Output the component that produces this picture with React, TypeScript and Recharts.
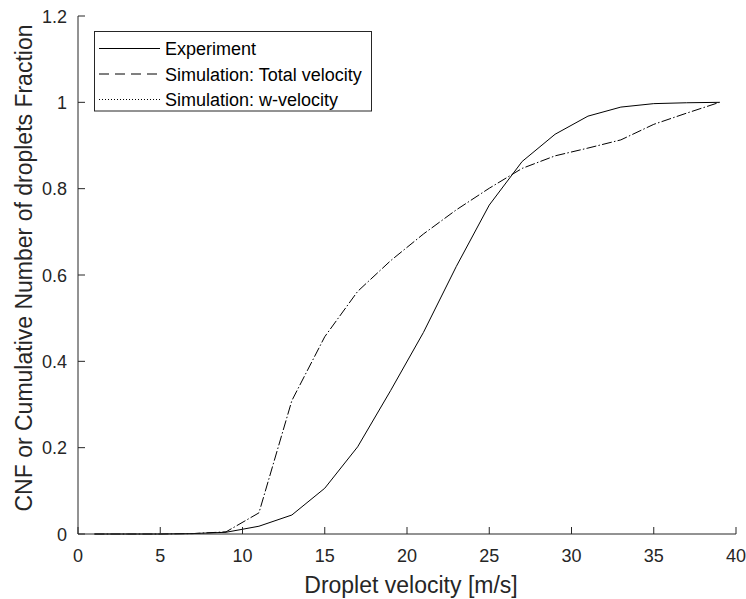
import React from 'react';
import { LineChart, Line, XAxis, YAxis } from 'recharts';

const velocity = [1, 3, 5, 7, 9, 11, 13, 15, 17, 19, 21, 23, 25, 27, 29, 31, 33, 35, 37, 39];
const experiment = [0, 0, 0, 0.001, 0.004, 0.018, 0.044, 0.106, 0.202, 0.332, 0.467, 0.62, 0.762, 0.863, 0.926, 0.968, 0.989, 0.997, 0.999, 1];
const simTotal = [0, 0, 0, 0.001, 0.005, 0.049, 0.309, 0.457, 0.562, 0.633, 0.695, 0.751, 0.801, 0.847, 0.876, 0.894, 0.913, 0.949, 0.975, 1];
const simW = [0, 0, 0, 0.001, 0.005, 0.049, 0.309, 0.457, 0.562, 0.633, 0.695, 0.751, 0.801, 0.847, 0.876, 0.894, 0.913, 0.949, 0.975, 1];
const xTicks = [0, 5, 10, 15, 20, 25, 30, 35, 40];
const yTicks = [0, 0.2, 0.4, 0.6, 0.8, 1, 1.2];
const seriesNames = ['Experiment', 'Simulation: Total velocity', 'Simulation: w-velocity'];
const xLabel = 'Droplet velocity [m/s]';
const yLabel = 'CNF or Cumulative Number of droplets Fraction';

const data = velocity.map((v, i) => ({ v, exp: experiment[i], tot: simTotal[i], w: simW[i] }));

const FONT = '"Liberation Sans", Arial, Helvetica, sans-serif';
const AX = '#262626';
const TICK_FS = 18;
const LABEL_FS = 23;

const BottomTick = (props: any) => {
  const { x, y, payload } = props;
  return (
    <g>
      <line x1={x} x2={x} y1={y} y2={y - 7} stroke={AX} strokeWidth={1} />
      <text x={x} y={y + 28} textAnchor="middle" fontSize={TICK_FS} fill={AX} fontFamily={FONT}>{payload.value}</text>
    </g>
  );
};
const TopTick = (props: any) => {
  const { x, y } = props;
  return <line x1={x} x2={x} y1={y} y2={y + 7} stroke={AX} strokeWidth={1} />;
};
const LeftTick = (props: any) => {
  const { x, y, payload } = props;
  return (
    <g>
      <line x1={x} x2={x + 7} y1={y} y2={y} stroke={AX} strokeWidth={1} />
      <text x={x - 11} y={y + 6.5} textAnchor="end" fontSize={TICK_FS} fill={AX} fontFamily={FONT}>{payload.value}</text>
    </g>
  );
};
const RightTick = (props: any) => {
  const { x, y } = props;
  return <line x1={x} x2={x - 7} y1={y} y2={y} stroke={AX} strokeWidth={1} />;
};

const XLabel = (props: any) => {
  const vb = props.viewBox;
  return (
    <text x={vb.x + vb.width / 2 + 4} y={vb.y + 59} textAnchor="middle" fontSize={LABEL_FS} fill={AX} fontFamily={FONT}>{xLabel}</text>
  );
};
const YLabel = (props: any) => {
  const vb = props.viewBox;
  const bx = vb.x + 14;
  const cy = vb.y + vb.height / 2 - 7;
  return (
    <text x={bx} y={cy} transform={`rotate(-90, ${bx}, ${cy})`} textAnchor="middle" fontSize={LABEL_FS} fill={AX} fontFamily={FONT}>{yLabel}</text>
  );
};

const LegendOverlay = () => {
  const rows = [
    { name: seriesNames[0], dash: undefined as string | undefined, y: 48.5 },
    { name: seriesNames[1], dash: '10 6', y: 74 },
    { name: seriesNames[2], dash: '1 2', y: 99.5 },
  ];
  return (
    <svg width={746} height={599} style={{ position: 'absolute', left: 0, top: 0, pointerEvents: 'none' }}>
      <rect x={94.5} y={31.5} width={277} height={79.5} fill="#fff" stroke={AX} strokeWidth={1} />
      {rows.map((r, i) => (
        <g key={i}>
          <line x1={99} x2={160} y1={r.y} y2={r.y} stroke="#000" strokeWidth={1} strokeDasharray={r.dash} />
          <text x={165} y={r.y + 6.5} fontSize={18} fill="#000" fontFamily={FONT}>{r.name}</text>
        </g>
      ))}
    </svg>
  );
};

export default function App() {
  return (
    <div style={{ position: 'absolute', left: 0, top: 0, width: 746, height: 599, background: '#fff' }}>
      <LineChart width={746} height={599} data={data} margin={{ top: 16, right: 10, bottom: 15, left: 18 }}>
        <XAxis xAxisId="b" dataKey="v" type="number" domain={[0, 40]} ticks={xTicks} tick={<BottomTick />} tickLine={false} tickSize={0} tickMargin={0}
          axisLine={{ stroke: AX }} height={50} interval={0} label={<XLabel />} />
        <XAxis xAxisId="t" orientation="top" dataKey="v" type="number" domain={[0, 40]} ticks={xTicks} tick={<TopTick />} tickLine={false} tickSize={0} tickMargin={0}
          axisLine={{ stroke: AX }} height={0} interval={0} />
        <YAxis yAxisId="l" type="number" domain={[0, 1.2]} ticks={yTicks} tick={<LeftTick />} tickLine={false} tickSize={0} tickMargin={0}
          axisLine={{ stroke: AX }} width={60} interval={0} label={<YLabel />} />
        <YAxis yAxisId="r" orientation="right" type="number" domain={[0, 1.2]} ticks={yTicks} tick={<RightTick />} tickLine={false} tickSize={0} tickMargin={0}
          axisLine={{ stroke: AX }} width={0} interval={0} />
        <Line xAxisId="b" yAxisId="l" dataKey="exp" name={seriesNames[0]} stroke="#000" strokeWidth={1} dot={false} isAnimationActive={false} />
        <Line xAxisId="b" yAxisId="l" dataKey="tot" name={seriesNames[1]} stroke="#000" strokeWidth={1} strokeDasharray="10 6" dot={false} isAnimationActive={false} />
        <Line xAxisId="b" yAxisId="l" dataKey="w" name={seriesNames[2]} stroke="#000" strokeWidth={1} strokeDasharray="1.5 14.5" strokeDashoffset={3.75} dot={false} isAnimationActive={false} />
      </LineChart>
      <LegendOverlay />
    </div>
  );
}
